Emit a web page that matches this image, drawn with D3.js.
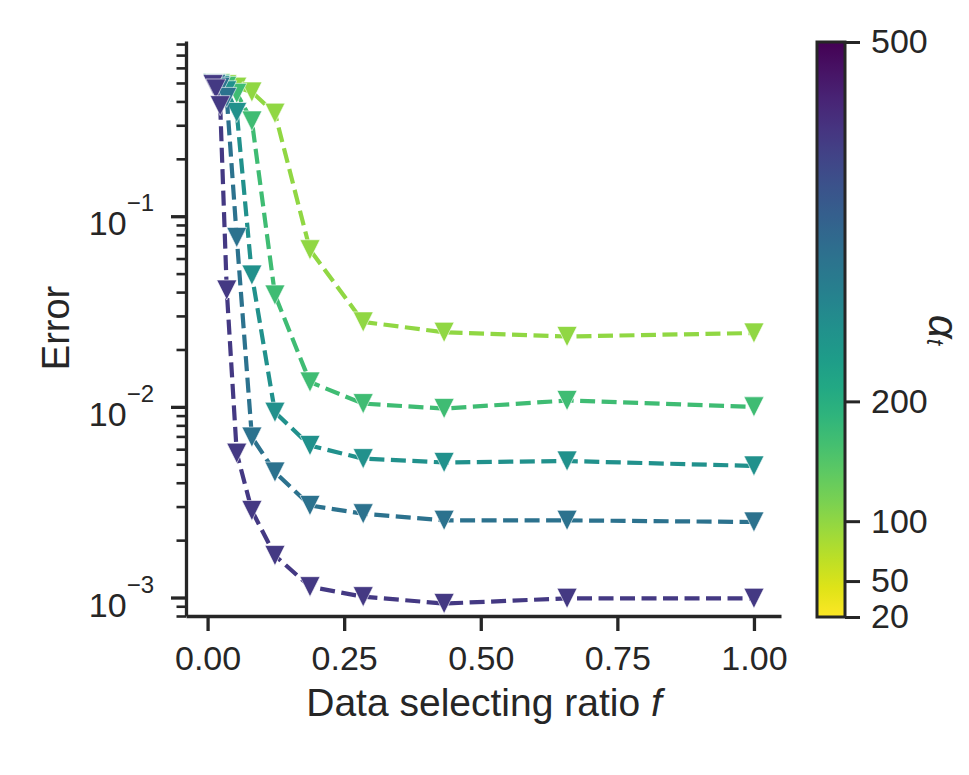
<!DOCTYPE html>
<html>
<head>
<meta charset="utf-8">
<script src="https://cdn.jsdelivr.net/npm/d3@7"></script>
<style>
  body { margin: 0; background: #fff; }
  text { font-family: "Liberation Sans", Arial, sans-serif; fill: #262626; }
</style>
</head>
<body>
<script>
//// datos ////
var ratios = [0.01, 0.0152, 0.0231, 0.0351, 0.0534, 0.0811, 0.1233, 0.1874, 0.2848, 0.4329, 0.6579, 1.0];
var alphas = [100, 170, 260, 320, 420];
var err100 = [0.500, 0.499, 0.497, 0.490, 0.475, 0.448, 0.347, 0.0667, 0.0279, 0.0246, 0.0234, 0.0244];
var err170 = [0.498, 0.497, 0.493, 0.480, 0.441, 0.316, 0.0386, 0.0135, 0.0104, 0.0098, 0.0108, 0.0100];
var err260 = [0.496, 0.494, 0.485, 0.455, 0.350, 0.0491, 0.00937, 0.00627, 0.00535, 0.00511, 0.0052, 0.0049];
var err320 = [0.494, 0.490, 0.475, 0.420, 0.0774, 0.00694, 0.00455, 0.00304, 0.00275, 0.00254, 0.00254, 0.00249];
var err420 = [0.490, 0.465, 0.380, 0.0410, 0.00572, 0.00286, 0.00166, 0.00114, 0.00101, 0.00093, 0.00099, 0.00099];
var errores = [err100, err170, err260, err320, err420];

var xTicks = [0, 0.25, 0.5, 0.75, 1.0];
var yMajor = [1e-3, 1e-2, 1e-1];
var cbTicks = [20, 50, 100, 200, 500];

var width = 969, height = 775;
var ink = "#262626";

var svg = d3.select("body").append("svg")
  .attr("width", width)
  .attr("height", height);

//// escalas ////
var x = d3.scaleLinear().domain([-0.0395, 1.0495]).range([186, 781]);
var y = d3.scaleLog().domain([0.0008, 0.83]).range([616, 41]);
var color = d3.scaleSequential(d3.interpolateViridis).domain([500, 20]);

//// eje x ////
var gx = svg.append("g")
  .attr("transform", "translate(0,616)")
  .call(d3.axisBottom(x).tickValues(xTicks).tickFormat(d3.format(".2f"))
    .tickSize(15).tickSizeOuter(0).tickPadding(14.6));
gx.selectAll("text").attr("font-size", 34).attr("fill", ink);

//// eje y, menores primero ////
var minors = y.ticks().filter(d => Math.abs(Math.log10(d) - Math.round(Math.log10(d))) > 1e-6);
svg.append("g")
  .attr("transform", "translate(186,0)")
  .call(d3.axisLeft(y).tickValues(minors).tickFormat("").tickSize(9.5).tickSizeOuter(0))
  .call(g => g.select(".domain").remove())
  .selectAll("line").attr("stroke-width", 2.6).attr("stroke", ink);

var gy = svg.append("g")
  .attr("transform", "translate(186,0)")
  .call(d3.axisLeft(y).tickValues(yMajor).tickFormat("").tickSize(15).tickSizeOuter(0));

// etiquetas 10^k a mano con tspan
gy.selectAll(".tick").append("text")
  .attr("x", -32)
  .attr("y", 18.5)
  .attr("text-anchor", "end")
  .attr("font-size", 34)
  .each(function(d) {
    var t = d3.select(this);
    t.append("tspan").text("10");
    t.append("tspan").attr("dy", -24).attr("font-size", 24).text("\u2212" + Math.round(-Math.log10(d)));
  });

[gx, gy].forEach(g => {
  g.select(".domain").attr("stroke", ink).attr("stroke-width", 3.3);
  g.selectAll(".tick line").attr("stroke", ink).attr("stroke-width", 3.3);
});

//// lineas + marcadores ////
var linea = d3.line().x((d, i) => x(ratios[i])).y(d => y(d));

// triangulo hacia abajo (como marker 'v')
var trianguloAbajo = {
  draw: function(context, size) {
    var s = Math.sqrt(size) / 2;
    context.moveTo(0, s);
    context.lineTo(-s, -s);
    context.lineTo(s, -s);
    context.closePath();
  }
};
var marker = d3.symbol().type(trianguloAbajo).size(20 * 20);

errores.forEach(function(serie, k) {
  var c = color(alphas[k]);
  svg.append("path")
    .datum(serie)
    .attr("fill", "none")
    .attr("stroke", c)
    .attr("stroke-width", 4.2)
    .attr("stroke-dasharray", "15 6.5")
    .attr("d", linea);

  svg.append("g").selectAll("path")
    .data(serie)
    .join("path")
    .attr("transform", (d, i) => `translate(${x(ratios[i])},${y(d)})`)
    .attr("d", marker)
    .attr("fill", c)
    .attr("stroke", "#fff")
    .attr("stroke-width", 0.6);
});

//// etiquetas de ejes ////
svg.append("text")
  .attr("transform", "translate(69,328) rotate(-90)")
  .attr("text-anchor", "middle")
  .attr("font-size", 38)
  .text("Error");

var xl = svg.append("text")
  .attr("x", 484)
  .attr("y", 716)
  .attr("text-anchor", "middle")
  .attr("font-size", 39);
xl.append("tspan").text("Data selecting ratio ");
xl.append("tspan").attr("font-style", "italic").text("f");

//// colorbar ////
var cb = d3.scaleLinear().domain([20, 500]).range([617, 42]);
var grad = svg.append("defs").append("linearGradient")
  .attr("id", "viri")
  .attr("x1", 0).attr("y1", 1).attr("x2", 0).attr("y2", 0);
grad.selectAll("stop")
  .data(d3.range(0, 1.0001, 0.05))
  .join("stop")
  .attr("offset", d => d)
  .attr("stop-color", d => color(20 + d * 480));

svg.append("rect")
  .attr("x", 817).attr("y", cb(500))
  .attr("width", 28).attr("height", cb(20) - cb(500))
  .attr("fill", "url(#viri)")
  .attr("stroke", ink)
  .attr("stroke-width", 3);

var gc = svg.append("g")
  .attr("transform", "translate(845,0)")
  .call(d3.axisRight(cb).tickValues(cbTicks).tickSize(15).tickSizeOuter(0).tickPadding(11));
gc.select(".domain").remove();
gc.selectAll(".tick line").attr("stroke", ink).attr("stroke-width", 3);
gc.selectAll("text").attr("font-size", 34).attr("fill", ink);

// etiqueta del colorbar, un poco a la izquierda para que no se corte
var al = svg.append("text")
  .attr("transform", "translate(929,330) rotate(90)")
  .attr("text-anchor", "middle")
  .attr("font-family", "DejaVu Sans")
  .attr("font-style", "italic")
  .attr("font-size", 42);
al.append("tspan").text("\u03b1");
al.append("tspan").attr("font-size", 23).attr("dy", 2).text("t");
</script>
</body>
</html>
